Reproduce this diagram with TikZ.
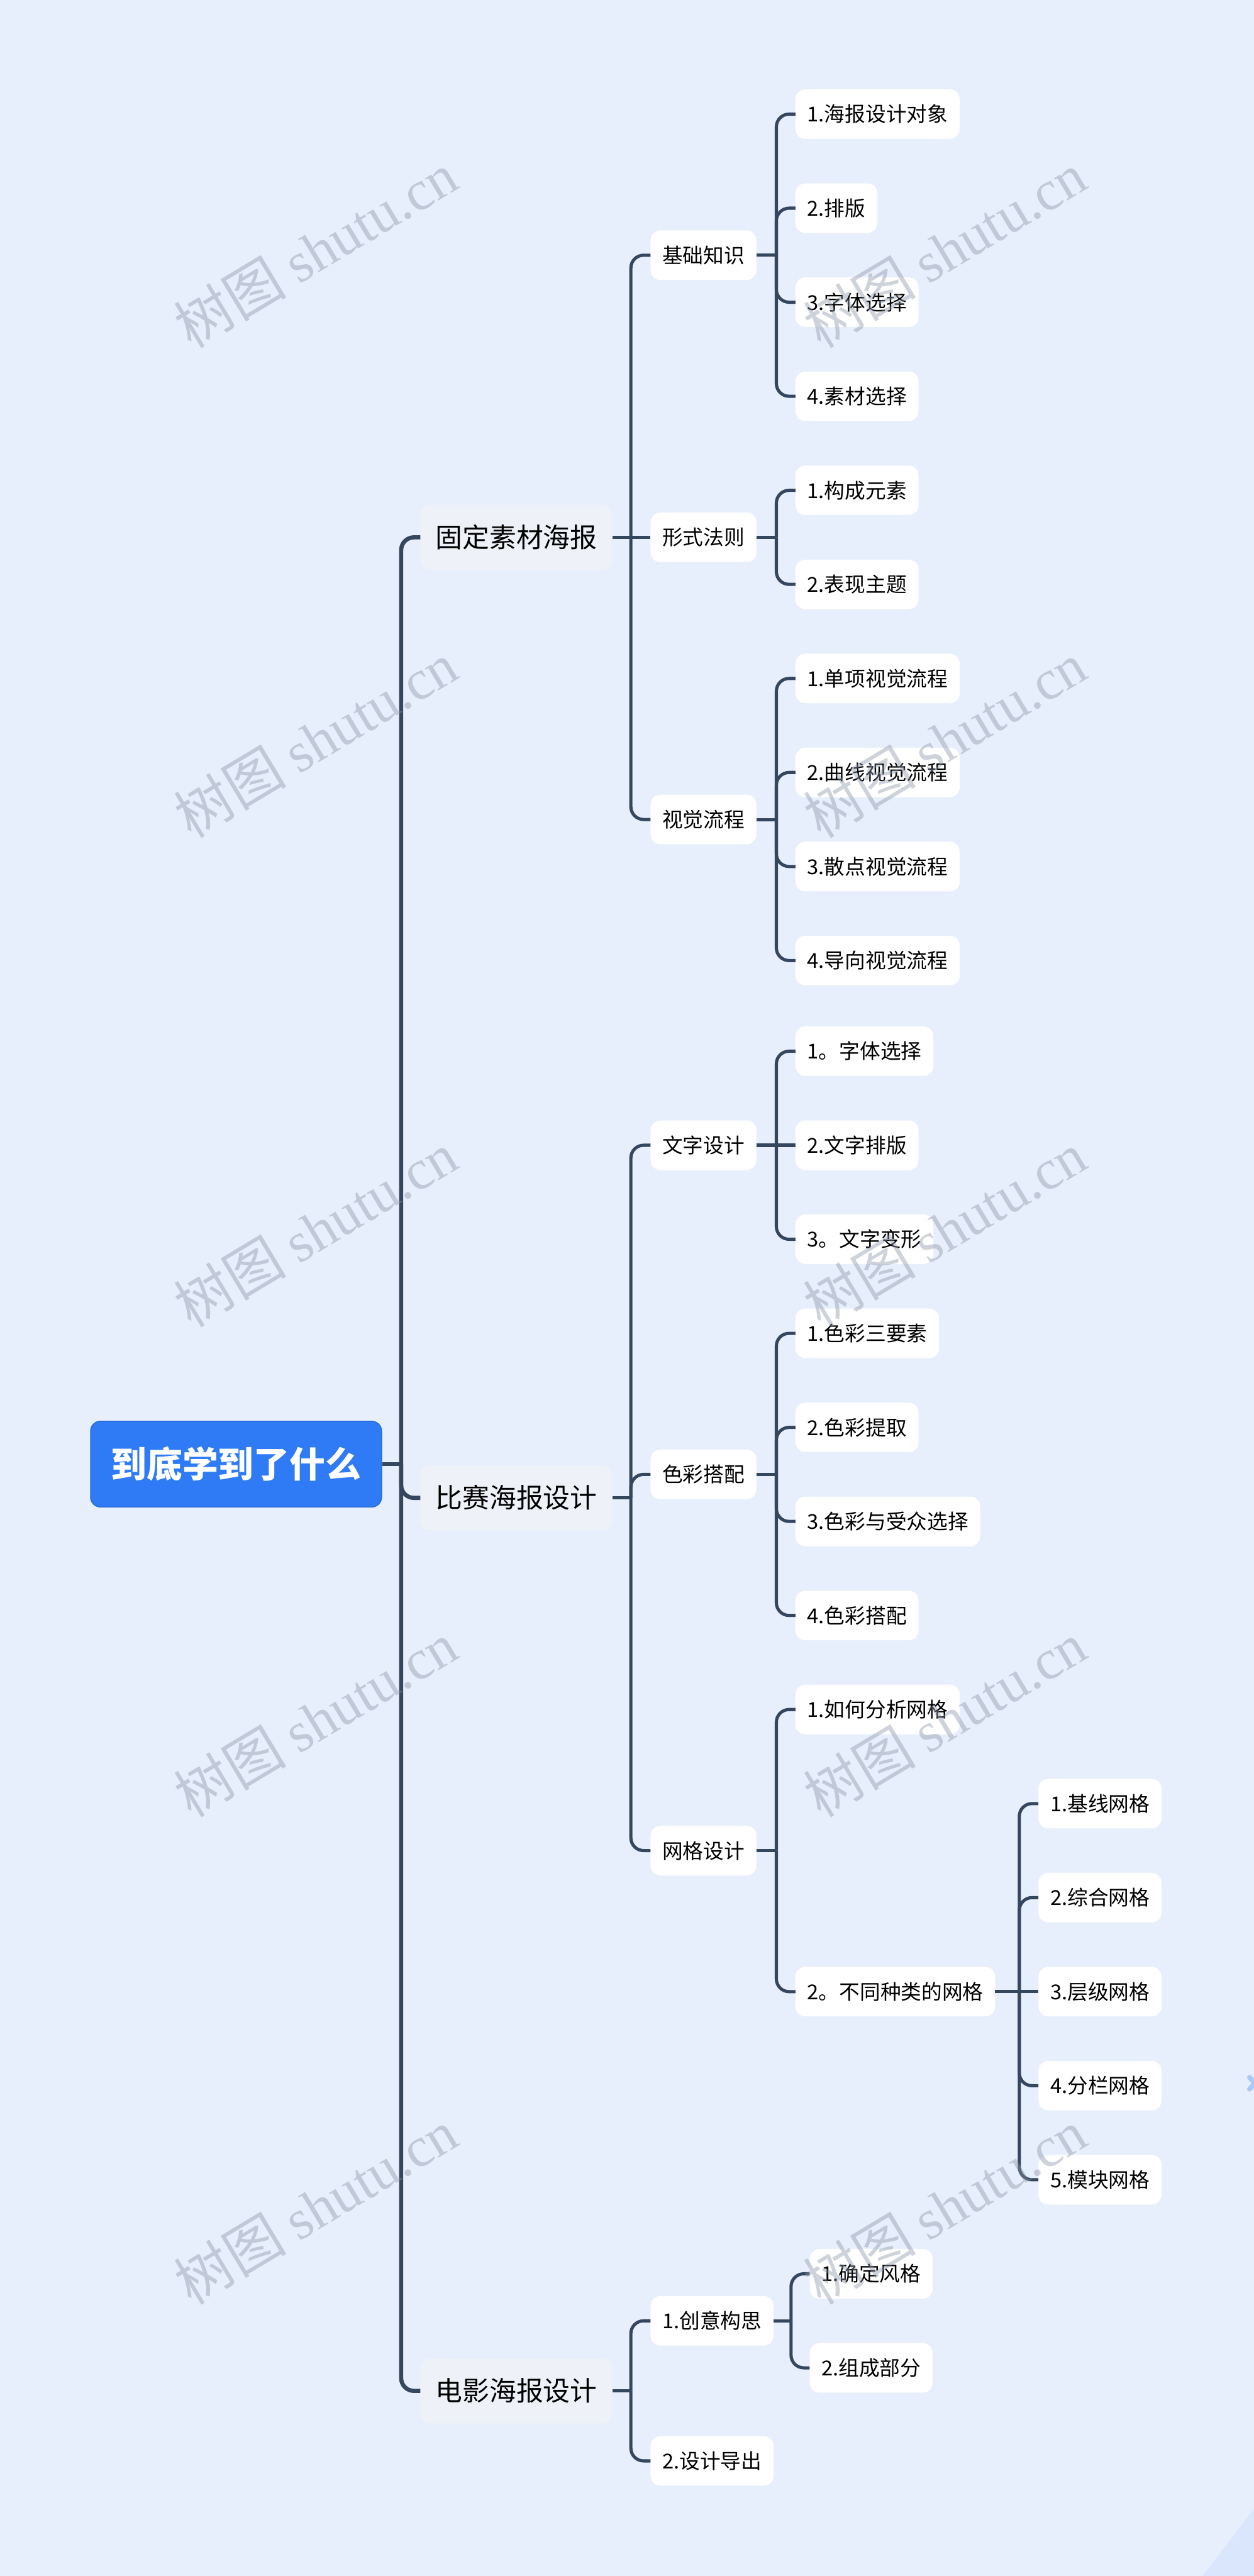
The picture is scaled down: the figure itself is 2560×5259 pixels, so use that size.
\documentclass[tikz,border=0pt]{standalone}
\usepackage{fontspec}
\setmainfont{Noto Sans CJK SC}
\newfontfamily\wmcjk{Noto Sans CJK SC}
\newfontfamily\wmlat{Liberation Serif}
\definecolor{bgc}{HTML}{E8EFFC}
\definecolor{cornerc}{HTML}{DAE6FC}
\definecolor{rootblue}{HTML}{2F7BF6}
\definecolor{lnc}{HTML}{35465F}
\definecolor{lone}{HTML}{EEF2F8}
\definecolor{wmc}{HTML}{8C96A8}
\definecolor{chevc}{HTML}{A8CAF7}
\tikzset{
  rootbox/.style={fill=rootblue, draw=rootblue!88!black, line width=2, rounded corners=20,
    minimum height=175, minimum width=594, inner ysep=0, inner xsep=41, anchor=west,
    text=white, font=\fontsize{73}{80}\selectfont\bfseries, text height=64, text depth=9},
  lonebox/.style={fill=lone, rounded corners=20, minimum height=133, inner ysep=0,
    inner xsep=31, anchor=west, font=\fontsize{55}{60}\selectfont, text height=48, text depth=7},
  nbox/.style={fill=white, rounded corners=20, minimum height=101, inner ysep=0,
    inner xsep=24, anchor=west, font=\fontsize{42}{46}\selectfont, text height=37, text depth=5},
  cA/.style={draw=lnc, line width=8.5},
  cB/.style={draw=lnc, line width=6.5},
  wm/.style={text=wmc, opacity=0.42, rotate=31, inner sep=0}
}
\newcommand\mmfan[4]{%
  \draw[#1] (#2.east) -- (#3);
  \foreach \ch in {#4} {\draw[#1, rounded corners=26] (#3) |- (\ch.west);}%
}
\begin{document}
\begin{tikzpicture}[x=1pt,y=-1pt]
\fill[bgc] (0,0) rectangle (2560,5259);
\useasboundingbox (0,0) rectangle (2560,5259);
\fill[cornerc] (2455,5259) -- (2560,5122) -- (2560,5259) -- cycle;
\draw[chevc, line width=10, line cap=round, line join=round] (2551,4241) -- (2562,4253) -- (2551,4265);

% root
\node[rootbox] (root) at (184,2989) {到底学到了什么};
% level 1
\node[lonebox] (g1) at (858,1097) {固定素材海报};
\node[lonebox] (g2) at (858,3058) {比赛海报设计};
\node[lonebox] (g3) at (858,4881) {电影海报设计};
% level 2
\node[nbox] (a1) at (1328,521) {基础知识};
\node[nbox] (a2) at (1328,1097) {形式法则};
\node[nbox] (a3) at (1328,1673) {视觉流程};
\node[nbox] (b1) at (1328,2338) {文字设计};
\node[nbox] (b2) at (1328,3010) {色彩搭配};
\node[nbox] (b3) at (1328,3778) {网格设计};
\node[nbox] (c1) at (1328,4738) {1.创意构思};
\node[nbox] (c2) at (1328,5024) {2.设计导出};
% level 3
\node[nbox] (a11) at (1624,233) {1.海报设计对象};
\node[nbox] (a12) at (1624,425) {2.排版};
\node[nbox] (a13) at (1624,617) {3.字体选择};
\node[nbox] (a14) at (1624,809) {4.素材选择};
\node[nbox] (a21) at (1624,1001) {1.构成元素};
\node[nbox] (a22) at (1624,1193) {2.表现主题};
\node[nbox] (a31) at (1624,1385) {1.单项视觉流程};
\node[nbox] (a32) at (1624,1577) {2.曲线视觉流程};
\node[nbox] (a33) at (1624,1769) {3.散点视觉流程};
\node[nbox] (a34) at (1624,1961) {4.导向视觉流程};
\node[nbox] (b11) at (1624,2146) {1。字体选择};
\node[nbox] (b12) at (1624,2338) {2.文字排版};
\node[nbox] (b13) at (1624,2530) {3。文字变形};
\node[nbox] (b21) at (1624,2722) {1.色彩三要素};
\node[nbox] (b22) at (1624,2914) {2.色彩提取};
\node[nbox] (b23) at (1624,3106) {3.色彩与受众选择};
\node[nbox] (b24) at (1624,3298) {4.色彩搭配};
\node[nbox] (b31) at (1624,3490) {1.如何分析网格};
\node[nbox] (b32) at (1624,4066) {2。不同种类的网格};
\node[nbox] (c11) at (1653,4642) {1.确定风格};
\node[nbox] (c12) at (1653,4834) {2.组成部分};
% level 4
\node[nbox] (d1) at (2120,3682) {1.基线网格};
\node[nbox] (d2) at (2120,3874) {2.综合网格};
\node[nbox] (d3) at (2120,4066) {3.层级网格};
\node[nbox] (d4) at (2120,4258) {4.分栏网格};
\node[nbox] (d5) at (2120,4450) {5.模块网格};

% junctions
\coordinate (jr) at (819,2989);
\coordinate (jg1) at (1288,1097);
\coordinate (jg2) at (1288,3058);
\coordinate (jg3) at (1288,4881);
\coordinate (ja1) at (1585,521);
\coordinate (ja2) at (1585,1097);
\coordinate (ja3) at (1585,1673);
\coordinate (jb1) at (1585,2338);
\coordinate (jb2) at (1585,3010);
\coordinate (jb3) at (1585,3778);
\coordinate (jc1) at (1615,4738);
\coordinate (jd) at (2081,4066);

% connectors
\mmfan{cA}{root}{jr}{g1,g2,g3}
\mmfan{cB}{g1}{jg1}{a1,a3}
\draw[cB] (jg1) -- (a2.west);
\mmfan{cB}{g2}{jg2}{b1,b2,b3}
\mmfan{cB}{g3}{jg3}{c1,c2}
\mmfan{cB}{a1}{ja1}{a11,a12,a13,a14}
\mmfan{cB}{a2}{ja2}{a21,a22}
\mmfan{cB}{a3}{ja3}{a31,a32,a33,a34}
\mmfan{cB}{b1}{jb1}{b11,b13}
\draw[cB] (jb1) -- (b12.west);
\mmfan{cB}{b2}{jb2}{b21,b22,b23,b24}
\mmfan{cB}{b3}{jb3}{b31,b32}
\mmfan{cB}{c1}{jc1}{c11,c12}
\mmfan{cB}{b32}{jd}{d1,d2,d4,d5}
\draw[cB] (jd) -- (d3.west);

% watermarks
\foreach \wy [count=\i] in {510,1510,2510,3510,4505} {
  \node[wm] (wl\i) at (644,\wy) {\fontsize{115}{118}\selectfont{\wmcjk 树图} {\wmlat shutu.cn}};
  \node[wm] (wr\i) at (1929,\wy) {\fontsize{115}{118}\selectfont{\wmcjk 树图} {\wmlat shutu.cn}};
}
\end{tikzpicture}
\end{document}
